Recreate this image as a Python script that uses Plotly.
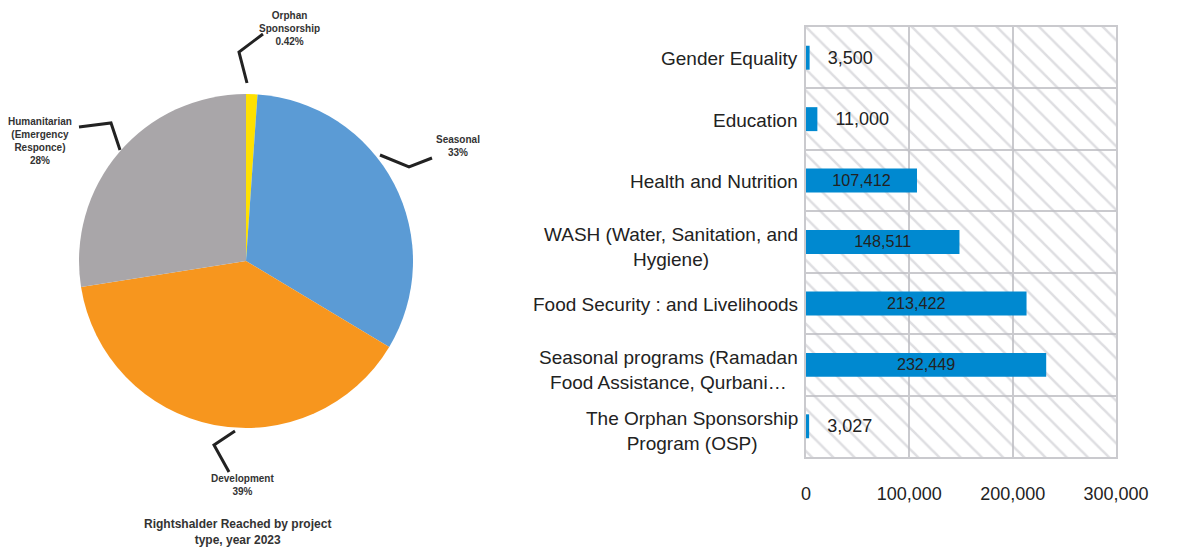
import plotly.graph_objects as go

# Figure is placed at (8, 8) of the page (body margin), so map reference pixels accordingly
OFF = 8
W, H = 1168, 541

# ---- Bar chart data (top to bottom) ----
bar_categories = [
    "Gender Equality",
    "Education",
    "Health and Nutrition",
    "WASH (Water, Sanitation, and<br>Hygiene)",
    "Food Security : and Livelihoods",
    "Seasonal programs (Ramadan<br>Food Assistance, Qurbani…",
    "The Orphan Sponsorship<br>Program (OSP)",
]
bar_values = [3500, 11000, 107412, 148511, 213422, 232449, 3027]
x_tick_values = [0, 100000, 200000, 300000]
x_tick_labels = ["0", "100,000", "200,000", "300,000"]
x_max = 300000

# ---- Pie data ----
pie_labels = ["Orphan Sponsorship", "Seasonal", "Development", "Humanitarian (Emergency Responce)"]
pie_values = [1.1, 32.5, 38.9, 27.5]
pie_texts = ["Orphan<br>Sponsorship<br>0.42%", "Seasonal<br>33%", "Development<br>39%",
             "Humanitarian<br>(Emergency<br>Responce)<br>28%"]
pie_colors = ["#FFE100", "#5B9BD5", "#F7961E", "#A9A6A9"]
pie_title = "Rightshalder Reached by project<br>type, year 2023"

FONT = "Liberation Sans, Arial, sans-serif"


def fx(x):
    return (x - OFF) / W


def fy(y):
    return 1 - (y - OFF) / H


def px(x, y):
    return fx(x), fy(y)


fig = go.Figure()

# Pie
fig.add_trace(go.Pie(
    labels=pie_labels, values=pie_values, sort=False, direction="clockwise",
    rotation=0, marker=dict(colors=pie_colors, line=dict(width=0)),
    textinfo="none", hoverinfo="label+percent", showlegend=False,
    domain=dict(x=[fx(79), fx(413)], y=[fy(428), fy(94)]),
))

# Hatched background bars
fig.add_trace(go.Bar(
    y=bar_categories, x=[x_max] * len(bar_categories), orientation="h",
    width=1, marker=dict(color="rgba(0,0,0,0)", line=dict(width=0),
                         pattern=dict(shape="\\", fgcolor="#BDBDC4", bgcolor="rgba(0,0,0,0)",
                                      size=15, solidity=0.17)),
    hoverinfo="skip", showlegend=False,
))

# Data bars
pad = "\u00a0" * 3
bar_text = [(pad + f"{v:,}") if v < 20000 else f"{v:,}" for v in bar_values]
fig.add_trace(go.Bar(
    y=bar_categories, x=bar_values, orientation="h", width=0.39,
    marker=dict(color="#0089D0", line=dict(width=0)),
    text=bar_text, textposition="auto",
    insidetextanchor="middle",
    textfont=dict(family=FONT, size=18, color="#222222"),
    insidetextfont=dict(family=FONT, size=18, color="#222222"),
    outsidetextfont=dict(family=FONT, size=18, color="#222222"),
    cliponaxis=False, showlegend=False,
))

fig.update_layout(
    width=W, height=H, margin=dict(l=0, r=0, t=0, b=0, autoexpand=False),
    paper_bgcolor="white", plot_bgcolor="white", barmode="overlay",
    font=dict(family=FONT, color="#222222"),
    xaxis=dict(domain=[fx(806), fx(1116)], range=[0, x_max], tickvals=x_tick_values,
               ticktext=x_tick_labels, showgrid=True, gridcolor="#CACACE", gridwidth=2,
               zeroline=False, showline=True, linecolor="#CACACE", linewidth=2, mirror=True,
               ticks="", ticklabelstandoff=19, tickfont=dict(size=18, color="#222222"),
               automargin=False, fixedrange=True),
    yaxis=dict(domain=[fy(457), fy(27)], type="category",
               categoryorder="array", categoryarray=bar_categories, autorange="reversed",
               tickson="boundaries", showgrid=True, gridcolor="#CACACE", gridwidth=2,
               showline=True, linecolor="#CACACE", linewidth=2, mirror=True,
               showticklabels=False, ticks="", zeroline=False, automargin=False,
               fixedrange=True),
)

annotations = []
# Category labels
for c in bar_categories:
    annotations.append(dict(x=fx(800), y=c, xref="paper", yref="y", text=c, showarrow=False,
                            xanchor="right", align="center",
                            yshift=-5 if "<br>" in c else -1,
                            font=dict(family=FONT, size=19, color="#222222")))

# Pie labels
lab_font = dict(family=FONT, size=10, color="#333333")
pie_label_pos = [
    ((289, 28), "center"),
    ((434, 146), "left"),
    ((242, 485), "center"),
    ((40, 141), "center"),
]
for t, ((x, y), xa) in zip(pie_texts, pie_label_pos):
    xx, yy = px(x, y)
    annotations.append(dict(x=xx, y=yy, xref="paper", yref="paper", text=f"<b>{t}</b>",
                            showarrow=False, xanchor=xa, yanchor="middle", align="center",
                            font=lab_font))

tx, ty = px(237, 532)
annotations.append(dict(x=tx, y=ty, xref="paper", yref="paper", text=f"<b>{pie_title}</b>",
                        showarrow=False, xanchor="center", yanchor="middle", align="center",
                        font=dict(family=FONT, size=12, color="#333333")))

# Leader lines
leaders = [
    [(247, 83), (239, 52), (263, 34)],
    [(380, 155), (409, 167), (432, 158)],
    [(120, 150), (111, 123), (79, 127)],
    [(235, 431), (214, 445), (229, 472)],
]
shapes = []
for pts in leaders:
    p = [px(x, y) for x, y in pts]
    path = "M {} {} ".format(*p[0]) + " ".join("L {} {}".format(*q) for q in p[1:])
    shapes.append(dict(type="path", path=path, xref="paper", yref="paper",
                       line=dict(color="#222222", width=3)))

fig.update_layout(annotations=annotations, shapes=shapes)

fig.write_html("out.html")
